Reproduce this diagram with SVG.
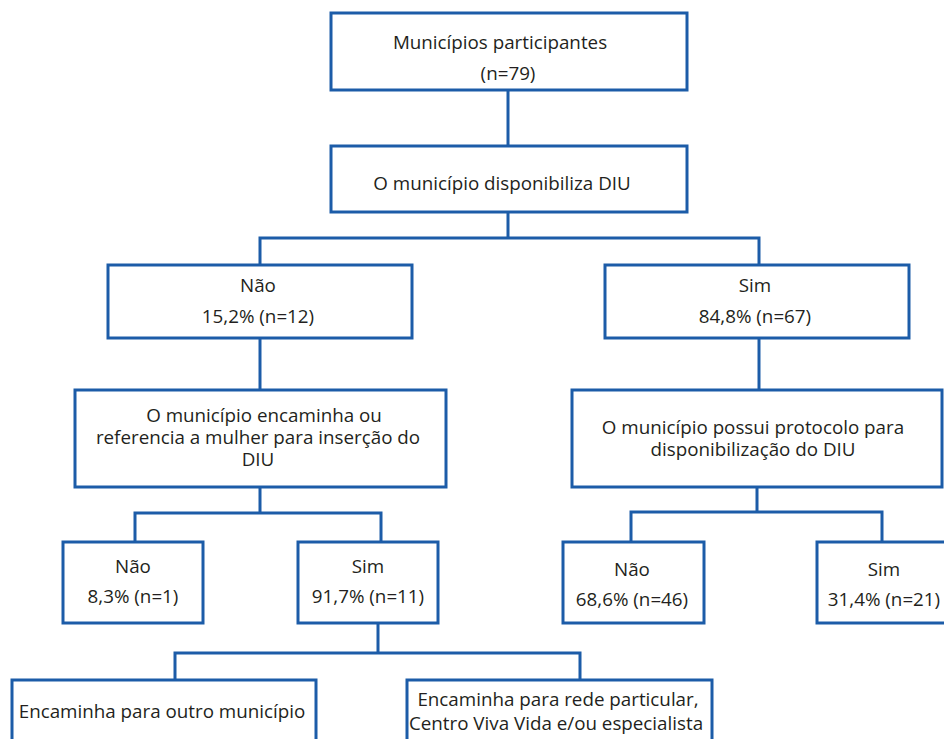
<svg xmlns="http://www.w3.org/2000/svg" width="944" height="739" viewBox="0 0 944 739">
<style>
.box{fill:#fff;stroke:#1c5ca8;stroke-width:3}
.ln{fill:none;stroke:#1c5ca8;stroke-width:3}
text{font-family:"Open Sans","Liberation Sans",sans-serif;font-size:18.8px;fill:#231f20;text-anchor:middle}
</style>
<rect width="944" height="739" fill="#fff"/>
<g id="connectors">
<path class="ln" d="M508 90V146"/>
<path class="ln" d="M508 212V238M260 265V238H759V265"/>
<path class="ln" d="M260 338V390"/>
<path class="ln" d="M759 338V390"/>
<path class="ln" d="M260 487V513M135 542V513H381V542"/>
<path class="ln" d="M757 487V512M631 542V512H882V542"/>
<path class="ln" d="M378 623V653M175 680V653H580V680"/>
</g>
<g id="n1"><rect class="box" x="331" y="13" width="356" height="77"/><text x="500" y="49">Municípios participantes</text><text x="508" y="80">(n=79)</text></g>
<g id="n2"><rect class="box" x="331" y="146" width="356" height="66"/><text x="502" y="190">O município disponibiliza DIU</text></g>
<g id="n3"><rect class="box" x="108" y="265" width="304" height="73"/><text x="258" y="292">Não</text><text x="258" y="323">15,2% (n=12)</text></g>
<g id="n4"><rect class="box" x="605" y="265" width="304" height="73"/><text x="755" y="292">Sim</text><text x="755" y="323">84,8% (n=67)</text></g>
<g id="n5"><rect class="box" x="75" y="390" width="371" height="97"/><text x="264" y="422">O município encaminha ou</text><text x="258" y="444">referencia a mulher para inserção do</text><text x="258" y="466">DIU</text></g>
<g id="n6"><rect class="box" x="572" y="390" width="370" height="97"/><text x="753" y="434">O município possui protocolo para</text><text x="753" y="456">disponibilização do DIU</text></g>
<g id="n7"><rect class="box" x="63" y="542" width="140" height="81"/><text x="133" y="573">Não</text><text x="133" y="603">8,3% (n=1)</text></g>
<g id="n8"><rect class="box" x="298" y="542" width="140" height="81"/><text x="368" y="573">Sim</text><text x="368" y="603">91,7% (n=11)</text></g>
<g id="n9"><rect class="box" x="563" y="542" width="141" height="81"/><text x="632" y="576">Não</text><text x="632" y="606">68,6% (n=46)</text></g>
<g id="n10"><rect class="box" x="817" y="542" width="135" height="81"/><text x="884" y="576">Sim</text><text x="884" y="606">31,4% (n=21)</text></g>
<g id="n11"><rect class="box" x="12" y="680" width="304" height="70"/><text x="162" y="718">Encaminha para outro município</text></g>
<g id="n12"><rect class="box" x="407" y="680" width="305" height="70"/><text x="558" y="706">Encaminha para rede particular,</text><text x="556" y="730">Centro Viva Vida e/ou especialista</text></g>
</svg>
